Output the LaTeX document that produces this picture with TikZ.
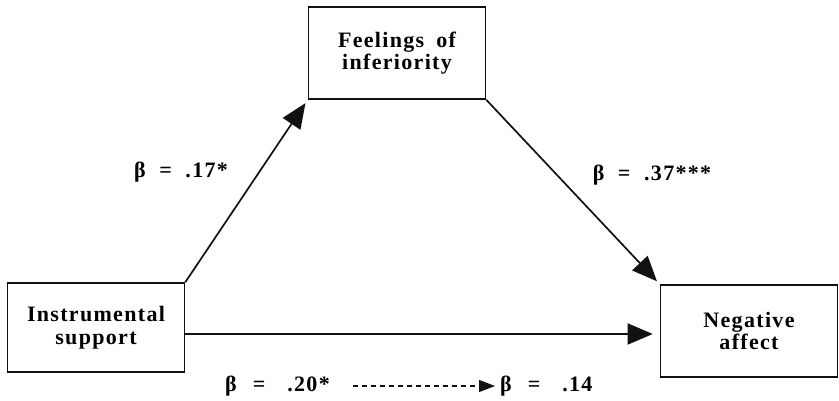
\documentclass[tikz,border=0pt]{standalone}
\usepackage{fontspec}
\setmainfont{Liberation Serif}
\usepackage{tikz}
\usetikzlibrary{arrows.meta,positioning,calc}
\definecolor{inkblack}{HTML}{111111}
\newcommand{\figfont}{\fontsize{22}{22.5}\selectfont\bfseries\addfontfeature{LetterSpace=6}}

\tikzset{
  varbox/.style={draw=inkblack,line width=1.6pt,fill=white,align=center,
                 inner sep=0pt,minimum width=177pt,font=\figfont},
  pathline/.style={draw=inkblack,line width=1.7pt,
                   -{Triangle[length=25pt,width=21pt]}},
  betalabel/.style={font=\figfont,inner sep=0pt}
}

\begin{document}
\begin{tikzpicture}[x=1pt,y=1pt]
    \useasboundingbox (0,0) rectangle (839,-401);
    % the three variables
    \node[varbox,minimum height=92pt] (feel) at (397,-53)
      {Feelings\kern12pt of\\inferiority};
    \node[varbox,minimum height=89pt] (instr) at (96,-327.5)
      {Instrumental\\support};
    \node[varbox,minimum height=92pt] (neg) at (749,-331)
      {Negative\\affect};

    % paths
    \draw[pathline,shorten >=4pt] (instr.north east) -- (feel.south west);
    \draw[pathline,shorten >=4pt] (feel.south east) -- (neg.north west);
    \coordinate (dirA) at (instr.east |- 0,-334);
    \coordinate (dirB) at (neg.west |- 0,-334);
    \draw[pathline,shorten >=7pt] (dirA) -- (dirB);

    % coefficients
    \node[betalabel] (b1) at (181,-172) {β \ = \ .17*};
    \node[betalabel] (b2) at (652,-175) {β \ = \ .37***};
    \node[betalabel,anchor=east] (b3) at (330,-386) {β\kern16pt=\kern22pt.20*};
    \node[betalabel,anchor=west] (b4) at (500,-386) {β\kern16pt=\kern22pt.14};
    \coordinate (dashA) at ($(b3.east)+(23,0)$);
    \coordinate (dashB) at ($(b4.west)+(-5,0)$);
    \draw[draw=inkblack,line width=1.2pt,dash pattern=on 5pt off 4pt,
          -{Triangle[length=16pt,width=12pt]}] (dashA) -- (dashB);
\end{tikzpicture}
\end{document}
